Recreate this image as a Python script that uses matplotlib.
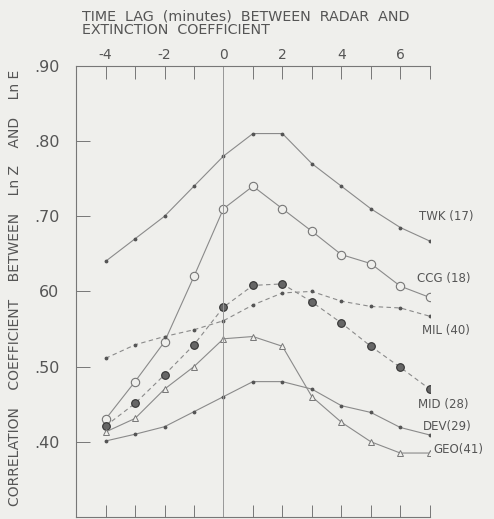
import matplotlib
matplotlib.use("Agg")
import matplotlib.pyplot as plt
import numpy as np

# time lag (minutes) between radar and extinction coefficient
lags = [-4, -3, -2, -1, 0, 1, 2, 3, 4, 5, 6, 7]

# correlation coefficient between Ln Z and Ln E
twk = [0.64, 0.67, 0.70, 0.74, 0.78, 0.81, 0.81, 0.77, 0.74, 0.71, 0.685, 0.667]
ccg = [0.43, 0.48, 0.533, 0.62, 0.71, 0.74, 0.71, 0.68, 0.649, 0.637, 0.607, 0.592]
mil = [0.511, 0.529, 0.54, 0.549, 0.561, 0.582, 0.598, 0.60, 0.587, 0.58, 0.578, 0.567]
mid = [0.421, 0.451, 0.489, 0.529, 0.579, 0.608, 0.61, 0.586, 0.558, 0.527, 0.499, 0.47]
dev = [0.401, 0.41, 0.42, 0.44, 0.46, 0.48, 0.48, 0.47, 0.448, 0.439, 0.419, 0.409]
geo = [0.413, 0.431, 0.47, 0.50, 0.537, 0.54, 0.527, 0.46, 0.426, 0.40, 0.385, 0.385]

labels = ["TWK (17)", "CCG (18)", "MIL (40)", "MID (28)", "DEV(29)", "GEO(41)"]
# where each series name sits, right of the last point
label_x = [6.65, 6.55, 6.75, 6.6, 6.78, 7.12]
label_y = [0.70, 0.617, 0.548, 0.45, 0.42, 0.39]

ink = "#555555"
line = "#8a8a8a"
paper = "#efefec"

fig = plt.figure(figsize=(4.94, 5.19), dpi=100, facecolor=paper)
ax = fig.add_axes([0.154, 0.004, 0.716, 0.869], facecolor=paper)

ax.plot(lags, twk, color=line, lw=0.8, marker=".", ms=3.5, mfc="#555", mec="#555")
ax.plot(lags, ccg, color=line, lw=0.8, marker="o", ms=6, mfc=paper, mec="#777", mew=0.8)
ax.plot(lags, mil, color=line, lw=0.8, ls=(0, (4, 3)), marker=".", ms=3.5, mfc="#555", mec="#555")
ax.plot(lags, mid, color=line, lw=0.8, ls=(0, (4, 3)), marker="o", ms=5.5, mfc="#666", mec="#333", mew=0.8)
ax.plot(lags, dev, color=line, lw=0.8, marker=".", ms=3.5, mfc="#555", mec="#555")
ax.plot(lags, geo, color=line, lw=0.8, marker="^", ms=4.5, mfc=paper, mec="#777", mew=0.7)

# vertical reference line at zero lag
ax.axvline(0, color="#999", lw=0.7)

for name, lx, ly in zip(labels, label_x, label_y):
    ax.text(lx, ly, name, ha="left", va="center", fontsize=8.5, color=ink, clip_on=False)

ax.set_xlim(-5, 7)
ax.set_ylim(0.30, 0.90)

ax.set_xticks(lags, minor=True)
ax.set_xticks([-4, -2, 0, 2, 4, 6])
ax.set_xticklabels(["-4", "-2", "0", "2", "4", "6"])
ax.tick_params(axis="x", which="both", direction="in", top=True, bottom=True,
               labeltop=True, labelbottom=False, length=9, width=0.7, color="#777",
               labelsize=10, labelcolor=ink, pad=3)

ax.set_yticks([0.40, 0.50, 0.60, 0.70, 0.80, 0.90])
ax.set_yticklabels([".40", ".50", "60", ".70", ".80", ".90"])
ax.tick_params(axis="y", direction="in", length=10, width=0.7, color="#777",
               labelsize=11.5, labelcolor=ink, pad=12)

ax.spines["right"].set_visible(False)
for s in ["left", "top", "bottom"]:
    ax.spines[s].set_color("#777")
    ax.spines[s].set_linewidth(0.8)

fig.text(0.166, 0.981, "TIME  LAG  (minutes)  BETWEEN  RADAR  AND\nEXTINCTION  COEFFICIENT",
         ha="left", va="top", fontsize=10.3, color=ink, linespacing=0.92)
fig.text(0.03, 0.445, "CORRELATION    COEFFICIENT    BETWEEN    Ln Z    AND    Ln E",
         rotation=90, ha="center", va="center", fontsize=10, color=ink)

fig.savefig("out.png", dpi=100, facecolor=paper)
